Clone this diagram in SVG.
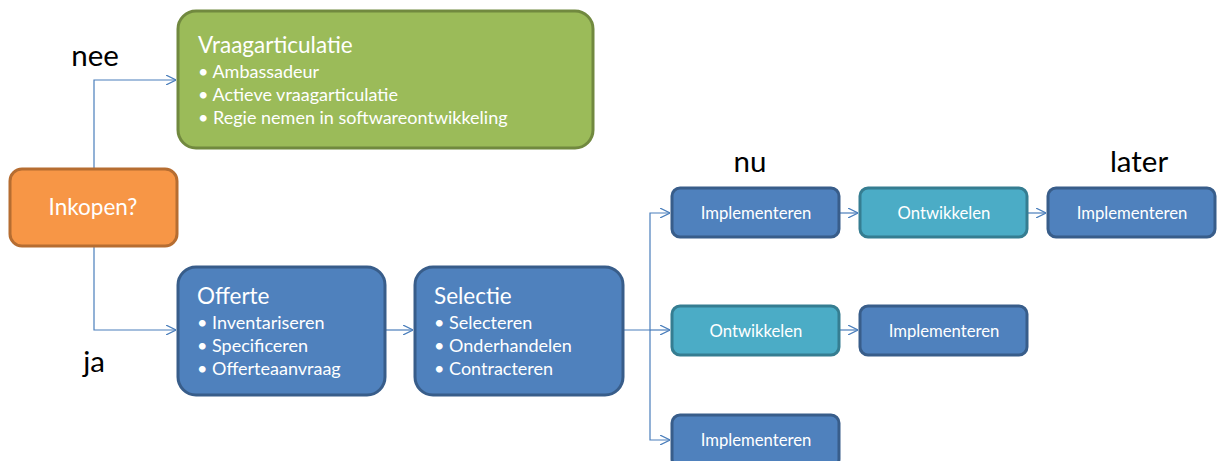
<svg xmlns="http://www.w3.org/2000/svg" width="1217" height="461" viewBox="0 0 1217 461">
  <style>
    text { font-family: Lato, "Open Sans", "Liberation Sans", sans-serif; fill: #ffffff; }
    .lbl { fill: #000000; font-size: 29.5px; }
    .title { font-size: 22.5px; }
    .item { font-size: 18px; }
    .small { font-size: 16.7px; text-anchor: middle; }
    .green { fill: #9bbb59; stroke: #71893f; stroke-width: 3; }
    .orange { fill: #f79646; stroke: #b66d31; stroke-width: 3; }
    .blue { fill: #4f81bd; stroke: #385d8a; stroke-width: 3; }
    .teal { fill: #4bacc6; stroke: #357d91; stroke-width: 3; }
    .conn { fill: none; stroke: #4a7ebb; stroke-width: 1.2; }
  </style>
  <defs>
    <marker id="arrow" viewBox="0 0 10 10" refX="10" refY="5" markerWidth="10" markerHeight="10" markerUnits="userSpaceOnUse" orient="auto">
      <path d="M0,0 L10,5 L0,10" fill="none" stroke="#4a7ebb" stroke-width="1.2"/>
    </marker>
  </defs>
  <rect width="1217" height="461" fill="#ffffff"/>

  <!-- connectors -->
  <g id="connectors" class="conn" marker-end="url(#arrow)">
    <path d="M94,168 V80 H176"/>
    <path d="M94,247 V330 H176"/>
    <path d="M386,330 H413"/>
    <path d="M624,330 H650 V213 H670"/>
    <path d="M650,330 H670"/>
    <path d="M650,330 V440 H670"/>
    <path d="M840,213 H858"/>
    <path d="M1028,213 H1046"/>
    <path d="M840,330 H858"/>
  </g>

  <!-- labels -->
  <text class="lbl" x="95" y="66" text-anchor="middle">nee</text>
  <text class="lbl" x="94" y="372" text-anchor="middle">ja</text>
  <text class="lbl" x="750" y="172" text-anchor="middle">nu</text>
  <text class="lbl" x="1139" y="172" text-anchor="middle">later</text>

  <g id="vraagarticulatie">
    <rect class="green" x="178" y="11" width="415" height="137" rx="18"/>
    <text class="title" x="198" y="53">Vraagarticulatie</text>
    <text class="item" x="198" y="78">• Ambassadeur</text>
    <text class="item" x="198" y="101">• Actieve vraagarticulatie</text>
    <text class="item" x="198" y="124">• Regie nemen in softwareontwikkeling</text>
  </g>

  <g id="inkopen">
    <rect class="orange" x="10" y="169" width="167" height="77" rx="12"/>
    <text x="93" y="215" font-size="22.5" text-anchor="middle">Inkopen?</text>
  </g>

  <g id="offerte">
    <rect class="blue" x="178" y="267" width="207" height="128" rx="18"/>
    <text class="title" x="197" y="304">Offerte</text>
    <text class="item" x="197" y="329">• Inventariseren</text>
    <text class="item" x="197" y="352">• Specificeren</text>
    <text class="item" x="197" y="375">• Offerteaanvraag</text>
  </g>

  <g id="selectie">
    <rect class="blue" x="415" y="267" width="208" height="128" rx="18"/>
    <text class="title" x="434" y="304">Selectie</text>
    <text class="item" x="434" y="329">• Selecteren</text>
    <text class="item" x="434" y="352">• Onderhandelen</text>
    <text class="item" x="434" y="375">• Contracteren</text>
  </g>

  <g id="impl-nu-1">
    <rect class="blue" x="672" y="188" width="167" height="49" rx="8"/>
    <text class="small" x="756" y="219">Implementeren</text>
  </g>
  <g id="ontw-1">
    <rect class="teal" x="860" y="188" width="167" height="49" rx="8"/>
    <text class="small" x="944" y="219">Ontwikkelen</text>
  </g>
  <g id="impl-later">
    <rect class="blue" x="1048" y="188" width="167" height="49" rx="8"/>
    <text class="small" x="1132" y="219">Implementeren</text>
  </g>
  <g id="ontw-2">
    <rect class="teal" x="672" y="306" width="167" height="49" rx="8"/>
    <text class="small" x="756" y="337">Ontwikkelen</text>
  </g>
  <g id="impl-2">
    <rect class="blue" x="860" y="306" width="167" height="49" rx="8"/>
    <text class="small" x="944" y="337">Implementeren</text>
  </g>
  <g id="impl-3">
    <rect class="blue" x="672" y="415" width="167" height="52" rx="8"/>
    <text class="small" x="756" y="446">Implementeren</text>
  </g>
</svg>
